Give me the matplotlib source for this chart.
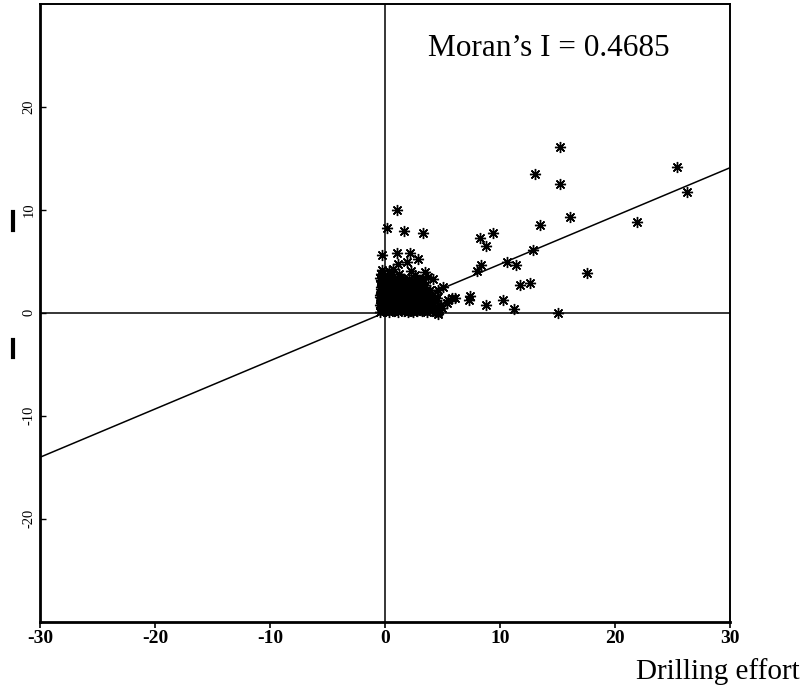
import matplotlib
matplotlib.use("Agg")
import matplotlib.pyplot as plt
from matplotlib.lines import Line2D
import numpy as np

plt.rcParams['font.family'] = ['Liberation Serif', 'DejaVu Serif']

# Moran scatter: standardized drilling effort vs. its spatial lag
moran_i = 0.4685

# sparse points away from the origin cluster
outer_x = [15.2, 13.0, 15.2, 16.1, 13.5, 9.4, 8.3, 8.8, 12.9, 10.6, 11.4, 8.35,
           17.6, 12.6, 11.7, 8.8, 10.3, 11.2, 15.0, 25.4, 26.3, 21.9,
           1.07, 0.14, 1.68, 3.33, -0.3, 1.07, 2.15, 1.94, 2.84, 1.1, 2.3,
           0.72, 3.5, 2.9, 7.97, 5.07, 5.8, 7.3, 7.4, 4.6, 4.6]
outer_y = [16.1, 13.4, 12.5, 9.3, 8.5, 7.7, 7.2, 6.5, 6.1, 4.9, 4.6, 4.6,
           3.8, 2.9, 2.7, 0.7, 1.2, 0.3, 0.0, 14.1, 11.7, 8.8,
           10.0, 8.2, 7.9, 7.7, 5.6, 5.8, 5.8, 4.9, 5.2, 4.7, 4.0,
           4.2, 3.9, 3.1, 4.06, 2.45, 1.4, 1.2, 1.6, 0.03, -0.1]

# dense cluster of low-effort cells near the origin
cluster_x = [-0.42, 0.03, 0.38, 0.81, 1.17, 1.63, 1.98, 2.44, 2.79, 3.21, 3.62, 4.05, 4.41,
             -0.25, 0.19, 0.61, 0.99, 1.41, 1.82, 2.21, 2.62, 3.01, 3.44, 3.83, 4.24,
             -0.31, 0.22, 0.57, 1.04, 1.36, 1.84, 2.19, 2.63, 2.97, 3.43, 3.88, 4.32, 4.93,
             -0.45, 0.05, 0.41, 0.79, 1.22, 1.61, 2.03, 2.41, 2.83, 3.24, 3.66, 4.12,
             -0.38, 0.12, 0.49, 0.92, 1.31, 1.72, 2.08, 2.53, 2.91, 3.34, 3.79, 4.18, 5.41,
             -0.29, 0.24, 0.64, 1.01, 1.44, 1.86, 2.27, 2.66, 3.05, 3.48, 3.95,
             -0.18, 0.29, 0.71, 1.12, 1.48, 1.93, 2.31, 2.68, 3.12, 3.57, 4.09, 4.52,
             -0.41, 0.07, 0.46, 0.87, 1.27, 1.66, 2.11, 2.52, 2.94, 3.36,
             -0.44, 0.01, 0.42, 0.83, 1.21, 1.58, 2.02, 2.39, 2.82, 3.19, 3.91,
             -0.34, 0.16, 0.55, 0.94, 1.33, 1.76, 2.17, 2.57, 2.99, 3.41,
             -0.27, 0.18, 0.62, 0.98, 1.42, 1.79, 2.23, 2.61, 3.08, 3.52, 4.61,
             -0.36, 0.14, 0.58, 1.02, 1.46, 1.91, 2.36, 2.88,
             -0.39, 0.09, 0.52, 0.88, 1.29, 1.69, 2.12, 2.71, 3.38,
             -0.26, 0.21, 0.63, 1.06, 1.49, 1.95, 2.42,
             -0.21, 0.31, 0.68, 1.09, 1.52, 1.98, 2.58, 3.02,
             -0.37, 0.11, 0.54, 0.96, 1.44, 1.87,
             -0.41, 0.04, 0.43, 0.91, 1.38, 2.11, 3.27,
             -0.33, 0.19, 0.61, 1.18, 2.57,
             -0.22, 0.33,
             3.77, 4.2, 3.5, 3.9, 4.35, 5.5, 6.1, 4.9, 4.1, 3.2]
cluster_y = [0.08, 0.12, 0.05, 0.11, 0.07, 0.14, 0.09, 0.06, 0.13, 0.10, 0.04, 0.12, 0.08,
             0.31, 0.28, 0.33, 0.29, 0.32, 0.27, 0.34, 0.30, 0.28, 0.33, 0.29, 0.31,
             0.52, 0.47, 0.55, 0.49, 0.58, 0.44, 0.51, 0.56, 0.46, 0.53, 0.48, 0.57, 0.45,
             0.72, 0.68, 0.74, 0.70, 0.73, 0.69, 0.71, 0.75, 0.67, 0.72, 0.70, 0.74,
             0.93, 0.88, 0.96, 0.85, 0.91, 0.97, 0.87, 0.94, 0.89, 0.92, 0.86, 0.95, 0.9,
             1.11, 1.08, 1.13, 1.09, 1.12, 1.07, 1.14, 1.10, 1.11, 1.09, 1.12,
             1.31, 1.27, 1.35, 1.29, 1.33, 1.26, 1.34, 1.28, 1.32, 1.3, 1.25, 1.36,
             1.51, 1.48, 1.53, 1.49, 1.52, 1.47, 1.54, 1.50, 1.51, 1.49,
             1.72, 1.68, 1.74, 1.69, 1.73, 1.66, 1.71, 1.75, 1.67, 1.7, 1.64,
             1.91, 1.88, 1.93, 1.89, 1.92, 1.87, 1.94, 1.90, 1.91, 1.89,
             2.11, 2.07, 2.13, 2.08, 2.12, 2.06, 2.14, 2.09, 2.1, 2.05, 2.15,
             2.31, 2.28, 2.33, 2.29, 2.32, 2.27, 2.34, 2.30,
             2.52, 2.47, 2.55, 2.49, 2.53, 2.46, 2.54, 2.48, 2.5,
             2.71, 2.68, 2.73, 2.69, 2.72, 2.67, 2.74,
             2.91, 2.87, 2.94, 2.88, 2.92, 2.86, 2.93, 2.89,
             3.11, 3.08, 3.13, 3.09, 3.12, 3.07,
             3.31, 3.27, 3.34, 3.28, 3.32, 3.26, 3.3,
             3.72, 3.67, 3.74, 3.69, 3.65,
             4.11, 4.07,
             3.4, 3.3, 2.7, 2.2, 1.5, 1.2, 1.4, 0.7, 0.35, 3.25]

x_ticks = [-30, -20, -10, 0, 10, 20, 30]
y_ticks = [-20, -10, 0, 10, 20]

fig = plt.figure(figsize=(8.06, 6.89), dpi=100)
ax = fig.add_axes([40 / 806, 1 - 621.5 / 689, 690 / 806, 618 / 689])
ax.set_xlim(-30, 30)
ax.set_ylim(-30, 30)

# quadrant lines
ax.axhline(0, color='black', lw=1.1, zorder=1)
ax.axvline(0, color='black', lw=1.1, zorder=1)

# regression line with slope equal to Moran's I
line_x = np.array([-30, 30])
ax.plot(line_x, moran_i * line_x, color='black', lw=1.1, zorder=2)

all_x = outer_x + cluster_x
all_y = outer_y + cluster_y
ax.plot(all_x, all_y, linestyle='none', marker=(8, 2, 0), markersize=8,
        markeredgewidth=1.0, color='black', zorder=3)
ax.plot(all_x, all_y, linestyle='none', marker='o', markersize=2.8,
        color='black', zorder=3)

ax.set_xticks(x_ticks)
ax.set_xticklabels([str(v) for v in x_ticks], fontsize=14, fontweight='bold')
ax.set_yticks(y_ticks)
ax.set_yticklabels([str(v) for v in y_ticks], fontsize=10.5, rotation=90,
                   va='center')
ax.tick_params(axis='x', direction='out', length=4, width=1.2, pad=2)
ax.tick_params(axis='y', direction='in', length=4, width=1.0, pad=3)

for side in ['left', 'bottom']:
    ax.spines[side].set_linewidth(2.0)
for side in ['top', 'right']:
    ax.spines[side].set_linewidth(1.4)

fig.text(428 / 806, 1 - 48 / 689, "Moran\u2019s I = 0.4685",
         fontsize=22.5, ha='left', va='center')
fig.text(800 / 806, 1 - 672 / 689, "Drilling effort", fontsize=21,
         ha='right', va='center')

# y-axis label marks
for top_px, bot_px in [(212, 230), (340, 357)]:
    fig.add_artist(Line2D([13 / 806, 13 / 806], [1 - top_px / 689, 1 - bot_px / 689],
                          color='black', lw=3.0, transform=fig.transFigure))

fig.savefig("out.png", dpi=100)
